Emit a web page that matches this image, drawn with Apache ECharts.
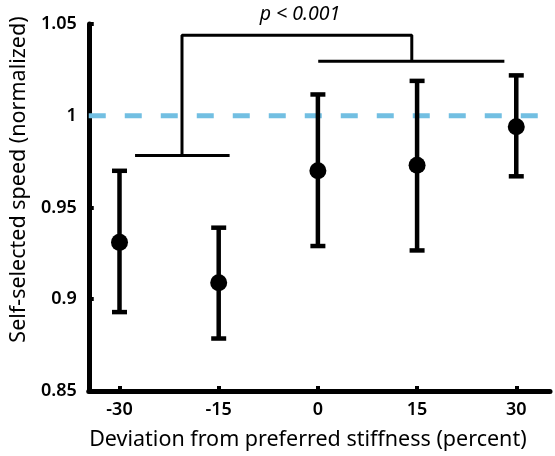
<!DOCTYPE html>
<html>
<head>
<meta charset="utf-8">
<script src="https://cdn.jsdelivr.net/npm/echarts@6/dist/echarts.min.js"></script>
<style>html,body{margin:0;padding:0;background:#fff}#c{width:555px;height:456px}</style>
</head>
<body>
<div id="c"></div>
<script>
const stiffness = [-30, -15, 0, 15, 30];
const speedMean = [0.931, 0.909, 0.970, 0.973, 0.994];
const speedUpper = [0.970, 0.939, 1.0116, 1.019, 1.022];
const speedLower = [0.893, 0.8786, 0.929, 0.9266, 0.967];
const yTicks = [0.85, 0.9, 0.95, 1, 1.05];
const referenceLevel = 1;
const bracketLeft = [[-27.65, 0.9784], [-13.35, 0.9784]];
const bracketTop = [[-20.55, 0.9784], [-20.55, 1.0439], [14.2, 1.0439], [14.2, 1.0297]];
const bracketRight = [[0.05, 1.0297], [28.2, 1.0297]];
const pLabel = 'p < 0.001';
const xTitle = 'Deviation from preferred stiffness (percent)';
const yTitle = 'Self-selected speed (normalized)';

const xMin = -34.65, xMax = 35.1;
const font = '"Noto Sans", sans-serif';
const chart = echarts.init(document.getElementById('c'), null, {renderer: 'canvas'});

const points = stiffness.map((x, i) => [x, speedMean[i]]);
const bars = stiffness.map((x, i) => [x, speedLower[i], speedUpper[i]]);
const blackLine = {color: '#000', width: 3};

chart.setOption({
  animation: false,
  grid: {left: 86, right: 5, top: 24, bottom: 64, containLabel: false},
  xAxis: {
    type: 'value', min: xMin, max: xMax,
    name: xTitle, nameLocation: 'middle', nameGap: 38,
    nameTextStyle: {fontFamily: font, fontSize: 21.5, color: '#000', padding: [0, 23, 0, 0]},
    axisLine: {show: true, onZero: false, lineStyle: {color: '#000', width: 5}},
    axisTick: {show: true, inside: true, length: 5, customValues: stiffness, lineStyle: {color: '#000', width: 4}},
    axisLabel: {customValues: stiffness, fontFamily: font, fontSize: 18, fontWeight: 600, color: '#000', margin: 10},
    splitLine: {show: false}
  },
  yAxis: {
    type: 'value', min: 0.85, max: 1.05, interval: 0.05,
    name: yTitle, nameLocation: 'middle', nameGap: 58, nameRotate: 90,
    nameTextStyle: {fontFamily: font, fontSize: 21.5, color: '#000', padding: [0, 0, 0, 56]},
    axisLine: {show: true, onZero: false, lineStyle: {color: '#000', width: 5}},
    axisTick: {show: true, inside: true, length: 5, customValues: yTicks, lineStyle: {color: '#000', width: 4}},
    axisLabel: {customValues: yTicks, fontFamily: font, fontSize: 18, fontWeight: 600, color: '#000', margin: 12},
    splitLine: {show: false}
  },
  graphic: [{
    type: 'text', x: 300, y: 14,
    style: {text: pLabel, fontFamily: font, fontSize: 19.5, fontStyle: 'italic', fill: '#000', textAlign: 'center', textVerticalAlign: 'middle'}
  }],
  series: [
    {
      type: 'line', data: [[xMin, referenceLevel], [xMax, referenceLevel]], symbol: 'none', z: 1,
      lineStyle: {color: '#72bfe2', width: 5, type: [17, 19]}
    },
    {type: 'line', data: bracketLeft, symbol: 'none', lineStyle: blackLine, z: 2},
    {type: 'line', data: bracketTop, symbol: 'none', lineStyle: blackLine, z: 2},
    {type: 'line', data: bracketRight, symbol: 'none', lineStyle: blackLine, z: 2},
    {
      type: 'custom', data: bars, z: 3,
      renderItem: function (params, api) {
        const x = api.value(0);
        const lo = api.coord([x, api.value(1)]);
        const hi = api.coord([x, api.value(2)]);
        const w = 7.5;
        const st = {stroke: '#000', lineWidth: 4.5};
        return {type: 'group', children: [
          {type: 'line', shape: {x1: lo[0], y1: lo[1], x2: hi[0], y2: hi[1]}, style: st},
          {type: 'line', shape: {x1: lo[0] - w, y1: lo[1], x2: lo[0] + w, y2: lo[1]}, style: st},
          {type: 'line', shape: {x1: hi[0] - w, y1: hi[1], x2: hi[0] + w, y2: hi[1]}, style: st}
        ]};
      }
    },
    {type: 'scatter', data: points, symbol: 'circle', symbolSize: 17, itemStyle: {color: '#000', opacity: 1}, z: 4}
  ]
});
</script>
</body>
</html>
